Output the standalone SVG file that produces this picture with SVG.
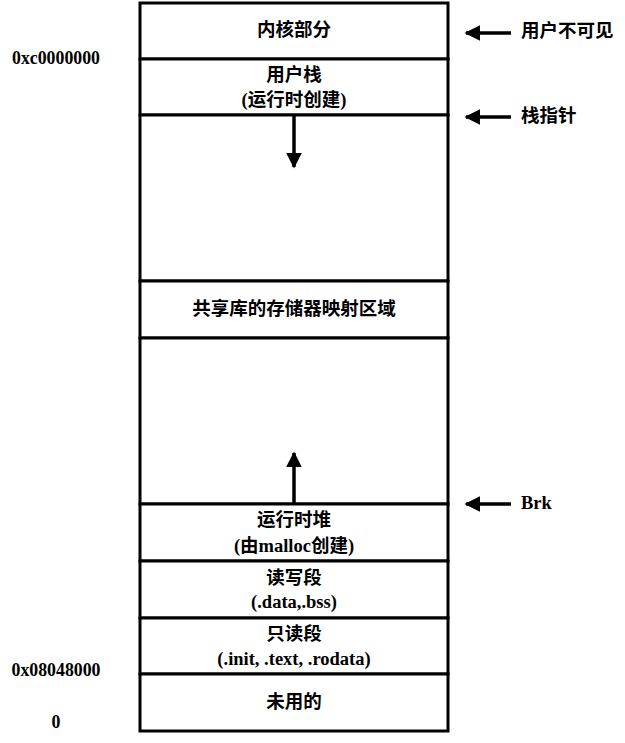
<svg xmlns="http://www.w3.org/2000/svg" width="625" height="743" viewBox="0 0 625 743">
<style>
.seg{fill:#fff;stroke:#000;stroke-width:3}
.t{font-family:"Liberation Serif","Noto Sans CJK SC",serif;font-weight:bold;font-size:18.5px;fill:#000;text-anchor:middle;dominant-baseline:central}
.a{font-size:17.8px}
.l{text-anchor:start}
.c{stroke:#000;stroke-width:3.5;fill:none}
</style>
<defs>
<marker id="ah" viewBox="0 0 10 10" refX="9" refY="5" markerWidth="4.5" markerHeight="4.5" orient="auto" markerUnits="strokeWidth">
<path d="M0,0 L10,5 L0,10 z" fill="#000"/>
</marker>
</defs>
<rect width="625" height="743" fill="#fff"/>
<g id="kernel"><rect class="seg" x="140" y="3" width="308" height="56"/><text class="t" x="294" y="30">内核部分</text></g>
<g id="userstack"><rect class="seg" x="140" y="59" width="308" height="56"/><text class="t" x="294" y="75">用户栈</text><text class="t" x="294" y="100">(运行时创建)</text></g>
<g id="gap1"><rect class="seg" x="140" y="115" width="308" height="166"/></g>
<g id="shared"><rect class="seg" x="140" y="281" width="308" height="57"/><text class="t" x="294" y="309">共享库的存储器映射区域</text></g>
<g id="gap2"><rect class="seg" x="140" y="338" width="308" height="166"/></g>
<g id="heap"><rect class="seg" x="140" y="504" width="308" height="57"/><text class="t" x="294" y="520">运行时堆</text><text class="t" x="294" y="546">(由malloc创建)</text></g>
<g id="rw"><rect class="seg" x="140" y="561" width="308" height="57"/><text class="t" x="294" y="578">读写段</text><text class="t" x="294" y="602">(.data,.bss)</text></g>
<g id="ro"><rect class="seg" x="140" y="618" width="308" height="56"/><text class="t" x="294" y="634">只读段</text><text class="t" x="294" y="659">(.init, .text, .rodata)</text></g>
<g id="unused"><rect class="seg" x="140" y="674" width="308" height="57"/><text class="t" x="294" y="702">未用的</text></g>
<g id="addr-high"><text class="t a" x="56" y="58">0xc0000000</text></g>
<g id="addr-text"><text class="t a" x="56" y="670">0x08048000</text></g>
<g id="addr-zero"><text class="t a" x="56" y="722">0</text></g>
<g id="lbl-invisible"><text class="t l" x="521" y="31">用户不可见</text></g>
<g id="lbl-sp"><text class="t l" x="521" y="116">栈指针</text></g>
<g id="lbl-brk"><text class="t l" x="521" y="503">Brk</text></g>
<g id="connectors">
<line class="c" x1="294" y1="116" x2="294" y2="167" marker-end="url(#ah)"/>
<line class="c" x1="294" y1="503" x2="294" y2="453" marker-end="url(#ah)"/>
<line class="c" x1="511" y1="33" x2="466" y2="33" marker-end="url(#ah)"/>
<line class="c" x1="511" y1="117" x2="466" y2="117" marker-end="url(#ah)"/>
<line class="c" x1="511" y1="504" x2="466" y2="504" marker-end="url(#ah)"/>
</g>
</svg>
